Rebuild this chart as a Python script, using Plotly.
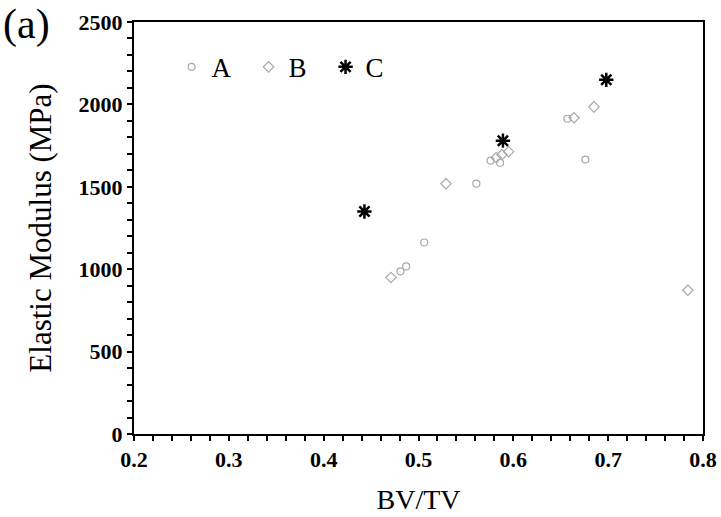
import plotly.graph_objects as go

# Series A (open circles)
a_x = [0.481, 0.487, 0.506, 0.561, 0.576, 0.586, 0.657, 0.676]
a_y = [987, 1017, 1162, 1519, 1659, 1646, 1913, 1665]
# Series B (open diamonds)
b_x = [0.471, 0.529, 0.582, 0.588, 0.595, 0.664, 0.685, 0.784]
b_y = [950, 1519, 1677, 1695, 1713, 1919, 1985, 872]
# Series C (asterisks)
c_x = [0.443, 0.589, 0.698]
c_y = [1350, 1780, 2149]

FONT = "Liberation Serif"

fig = go.Figure()
fig.add_trace(go.Scatter(x=a_x, y=a_y, mode="markers", name="A",
                         marker=dict(symbol="circle-open", size=7, color="#a8a8a8",
                                     line=dict(width=1.2, color="#a8a8a8"))))
fig.add_trace(go.Scatter(x=b_x, y=b_y, mode="markers", name="B",
                         marker=dict(symbol="diamond-open", size=8, color="#a8a8a8",
                                     line=dict(width=1.2, color="#a8a8a8"))))
fig.add_trace(go.Scatter(x=c_x, y=c_y, mode="markers", name="C",
                         marker=dict(symbol="asterisk-open", size=12, color="black",
                                     line=dict(width=2.5, color="black"))))

axis_common = dict(showline=True, linecolor="black", linewidth=2, mirror=True,
                   showgrid=False, zeroline=False, ticks="outside", ticklen=5,
                   tickwidth=1.5, tickcolor="black", automargin=False,
                   tickfont=dict(family=FONT, size=22, color="black", weight="bold"))

fig.update_xaxes(range=[0.2, 0.8], dtick=0.1, tick0=0.2, tickformat=".1f",
                 minor=dict(dtick=0.02, ticks="outside", ticklen=5, tickwidth=1.5,
                            tickcolor="black", showgrid=False),
                 title=dict(text="BV/TV", font=dict(family=FONT, size=28, color="black"),
                            standoff=18),
                 **axis_common)
fig.update_yaxes(range=[0, 2500], dtick=500,
                 minor=dict(dtick=100, ticks="outside", ticklen=5, tickwidth=1.5,
                            tickcolor="black", showgrid=False),
                 title=dict(text="Elastic Modulus (MPa)",
                            font=dict(family=FONT, size=31, color="black"), standoff=18),
                 **axis_common)

fig.add_annotation(text="(a)", xref="paper", yref="paper", x=-0.233, y=1.055,
                   xanchor="left", yanchor="top", showarrow=False,
                   font=dict(family=FONT, size=42, color="black"))

fig.update_layout(
    width=721, height=517,
    margin=dict(l=134, r=18, t=22, b=83),
    paper_bgcolor="white", plot_bgcolor="white",
    showlegend=True,
    legend=dict(orientation="h", x=0.066, y=0.89, xanchor="left", yanchor="middle",
                entrywidth=32, entrywidthmode="pixels", bgcolor="rgba(0,0,0,0)",
                font=dict(family=FONT, size=27, color="black"), itemwidth=30),
)

fig.write_html("out.html")
